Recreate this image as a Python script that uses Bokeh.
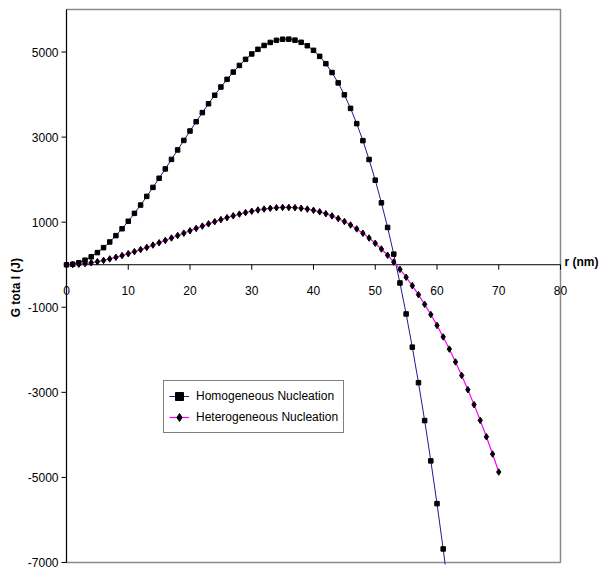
from bokeh.plotting import figure
from bokeh.models import FixedTicker, Range1d, Legend, LegendItem, Label
from bokeh.embed import file_html
from bokeh.resources import INLINE

# ---- data ----
r_homo = list(range(0, 63))
g_homo = [0, 12, 48, 107, 186, 285, 402, 535, 684, 846,
          1022, 1208, 1403, 1607, 1818, 2033, 2253, 2476, 2699, 2923,
          3144, 3362, 3576, 3784, 3985, 4177, 4358, 4528, 4685, 4828,
          4955, 5064, 5155, 5226, 5275, 5301, 5303, 5280, 5229, 5149,
          5040, 4899, 4726, 4518, 4275, 3994, 3676, 3317, 2917, 2474,
          1988, 1455, 876, 249, -429, -1157, -1938, -2773, -3663, -4611,
          -5616, -6681, -7807]

r_hetero = list(range(0, 71))
g_hetero = [0, 3, 12, 27, 47, 72, 102, 136, 174, 215,
            259, 307, 356, 408, 462, 516, 572, 629, 686, 742,
            799, 854, 908, 961, 1012, 1061, 1107, 1150, 1190, 1226,
            1258, 1286, 1309, 1327, 1340, 1347, 1347, 1341, 1328, 1308,
            1280, 1244, 1200, 1148, 1086, 1015, 934, 842, 741, 628,
            505, 370, 223, 63, -109, -294, -492, -704, -931, -1171,
            -1426, -1697, -1983, -2285, -2603, -2938, -3289, -3658, -4045, -4450,
            -4873]

x_ticks = [0, 10, 20, 30, 40, 50, 60, 70, 80]
x_tick_labels = ["0", "10", "20", "30", "40", "50", "60", "70", "80"]
y_ticks = [-7000, -5000, -3000, -1000, 1000, 3000, 5000]
y_tick_labels = ["-7000", "-5000", "-3000", "-1000", "1000", "3000", "5000"]

series_names = ["Homogeneous Nucleation", "Heterogeneous Nucleation"]
x_title = "r (nm)"
y_title = "G  tota l (J)"

FONT = "Liberation Sans"
FS = "12px"

# axis extents of the drawn chart box
X0, X1 = 0, 80
Y0, Y1 = -7000, 6000
BOX_W, BOX_H = 494, 553          # pixel size of the chart box
PAD_L, PAD_R, PAD_T, PAD_B = 6, 40, 2, 2   # frame padding around the box (px)

px_x = BOX_W / (X1 - X0)
px_y = BOX_H / (Y1 - Y0)

p = figure(frame_width=BOX_W + PAD_L + PAD_R, frame_height=BOX_H + PAD_T + PAD_B,
           output_backend="svg", toolbar_location=None,
           x_range=Range1d(X0 - PAD_L / px_x, X1 + PAD_R / px_x),
           y_range=Range1d(Y0 - PAD_B / px_y, Y1 + PAD_T / px_y),
           x_axis_location=None, y_axis_location="left",
           min_border_left=60, min_border_right=0,
           min_border_top=7, min_border_bottom=6)

p.xgrid.visible = False
p.ygrid.visible = False
p.outline_line_color = None
p.background_fill_color = "white"
p.border_fill_color = "white"

# chart box border
p.quad(left=[X0], right=[X1], bottom=[Y0], top=[Y1], fill_color=None,
       line_color="#8a8a8a", line_width=1.5)

# y axis: labels from the axis, line + ticks drawn at x = 0
ya = p.yaxis[0]
ya.ticker = FixedTicker(ticks=y_ticks)
ya.major_label_overrides = {t: s for t, s in zip(y_ticks, y_tick_labels)}
ya.minor_tick_line_color = None
ya.major_tick_line_color = None
ya.major_tick_out = 0
ya.major_tick_in = 0
ya.axis_line_color = None
ya.major_label_text_font = FONT
ya.major_label_text_font_size = FS
ya.major_label_text_color = "black"
ya.major_label_standoff = 2
ya.axis_label = y_title
ya.axis_label_text_font = FONT
ya.axis_label_text_font_size = FS
ya.axis_label_text_font_style = "bold"
ya.axis_label_text_color = "black"
ya.axis_label_standoff = 2

ytick_len = 5 / px_x
p.segment(x0=[X0], x1=[X0], y0=[Y0], y1=[Y1], line_color="black", line_width=1)
p.segment(x0=[X0] * len(y_ticks), x1=[X0 - ytick_len] * len(y_ticks), y0=y_ticks, y1=y_ticks,
          line_color="black", line_width=1)

# x axis drawn at y = 0
p.segment(x0=[X0], x1=[X1], y0=[0], y1=[0], line_color="black", line_width=1)
xtick_len = 5 / px_y
p.segment(x0=x_ticks, x1=x_ticks, y0=[0] * len(x_ticks), y1=[-xtick_len] * len(x_ticks),
          line_color="black", line_width=1)
for xv, lab in zip(x_ticks, x_tick_labels):
    p.add_layout(Label(x=xv, y=0, text=lab, text_align="center", text_baseline="middle",
                       y_offset=-26, text_font=FONT, text_font_size=FS, text_color="black"))
p.add_layout(Label(x=X1, y=0, text=x_title, text_align="left", text_baseline="middle",
                   x_offset=4, y_offset=3, text_font=FONT, text_font_size=FS,
                   text_font_style="bold", text_color="black"))

# series
h_line = p.line(r_homo, g_homo, line_color="#1c1c94", line_width=1)
h_mark = p.scatter(r_homo, g_homo, marker="square", size=4.5,
                   fill_color="black", line_color="black")
e_line = p.line(r_hetero, g_hetero, line_color="#ff00ff", line_width=1.2)
e_mark = p.scatter(r_hetero, g_hetero, marker="diamond", size=6.5,
                   fill_color="black", line_color="black")

legend = Legend(items=[LegendItem(label=series_names[0], renderers=[h_line, h_mark]),
                       LegendItem(label=series_names[1], renderers=[e_line, e_mark])],
                location=(103, 131))
legend.border_line_color = "black"
legend.border_line_width = 1
legend.background_fill_color = "white"
legend.background_fill_alpha = 1
legend.label_text_font = FONT
legend.label_text_font_size = FS
legend.label_text_color = "black"
legend.glyph_width = 20
legend.glyph_height = 20
legend.label_height = 20
legend.label_standoff = 7
legend.padding = 5
legend.spacing = 1
legend.margin = 0
p.add_layout(legend)

open("out.html", "w").write(file_html(p, INLINE))
